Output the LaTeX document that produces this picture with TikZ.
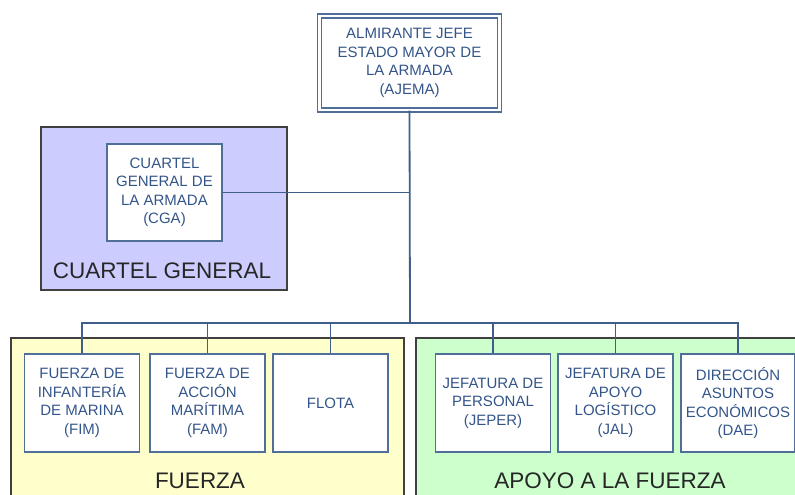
\documentclass[tikz,border=0pt]{standalone}
\usepackage{fontspec}
\setmainfont{Liberation Sans}
\definecolor{txtblue}{HTML}{34558A}
\definecolor{lineblue}{HTML}{3F5F8A}
\definecolor{boxblue}{HTML}{4F6F98}
\definecolor{grpgray}{HTML}{404040}
\definecolor{lav}{HTML}{CCCCFF}
\definecolor{lyellow}{HTML}{FFFFCC}
\definecolor{lgreen}{HTML}{CCFFCC}
\tikzset{
  unit/.style={draw=boxblue, line width=1.8pt, fill=white, align=center, text=txtblue,
    font=\fontsize{15}{18.5}\selectfont, minimum width=115pt, minimum height=98pt, inner sep=1pt},
  topunit/.style={unit, double=white, double distance=2.4pt, line width=1.4pt, minimum width=180pt, minimum height=94pt},
  group/.style={draw=grpgray, line width=1.8pt},
  grplabel/.style={font=\fontsize{22.5}{26}\selectfont, text=black!85},
  conn/.style={draw=lineblue, line width=1.8pt}
}
\begin{document}
\begin{tikzpicture}[x=1pt,y=-1pt]
\useasboundingbox (0,0) rectangle (795,495);
\clip (0,0) rectangle (795,495);
% groups
\draw[group, fill=lav] (41,127) rectangle (287,290);
\draw[group, fill=lyellow] (11,338) rectangle (404,520);
\draw[group, fill=lgreen] (416,338) rectangle (820,520);
\node[grplabel] (lcg) at (162,271) {CUARTEL GENERAL};
\node[grplabel] (lfu) at (200,481) {FUERZA};
\node[grplabel] (lap) at (610,481) {APOYO A LA FUERZA};
% nodes
\node[topunit] (ajema) at (409.5,63) {ALMIRANTE JEFE\\ESTADO MAYOR DE\\LA ARMADA\\(AJEMA)};
\node[unit, minimum height=97pt] (cga) at (164.5,192.5) {CUARTEL\\GENERAL DE\\LA ARMADA\\(CGA)};
\node[unit] (fim) at (82,403) {FUERZA DE\\INFANTERÍA\\DE MARINA\\(FIM)};
\node[unit] (fam) at (207.5,403) {FUERZA DE\\ACCIÓN\\MARÍTIMA\\(FAM)};
\node[unit] (flota) at (330.5,403) {FLOTA};
\node[unit] (jeper) at (493,403) {JEFATURA DE\\PERSONAL\\(JEPER)};
\node[unit] (jal) at (615.5,403) {JEFATURA DE\\APOYO\\LOGÍSTICO\\(JAL)};
\node[unit, minimum width=114pt] (dae) at (738,403) {DIRECCIÓN\\ASUNTOS\\ECONÓMICOS\\(DAE)};
% connectors
\coordinate (bar) at (410,323);
\draw[conn] (ajema.south) -- (bar);
\draw[conn] (cga.east) -- (cga.east -| ajema.south);
\draw[conn] (fim.north) -- (fim.north |- bar) -- (dae.north |- bar) -- (dae.north);
\draw[conn] (fam.north) -- (fam.north |- bar);
\draw[conn] (flota.north) -- (flota.north |- bar);
\draw[conn] (jeper.north) -- (jeper.north |- bar);
\draw[conn] (jal.north) -- (jal.north |- bar);
\end{tikzpicture}
\end{document}
